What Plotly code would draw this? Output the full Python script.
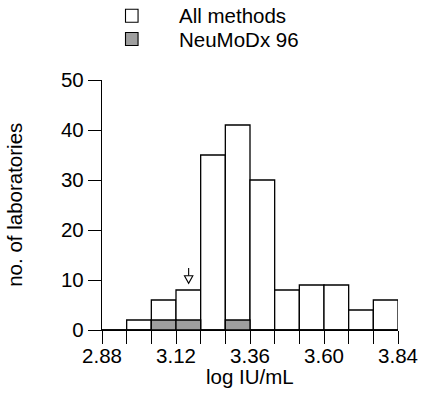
import plotly.graph_objects as go

# Data
bin_left = [2.88, 2.96, 3.04, 3.12, 3.20, 3.28, 3.36, 3.44, 3.52, 3.60, 3.68, 3.76]
all_methods = [0, 2, 6, 8, 35, 41, 30, 8, 9, 9, 4, 6]
neumodx = [0, 0, 2, 2, 0, 2, 0, 0, 0, 0, 0, 0]
bin_width = 0.08
x_tick_labels = ["2.88", "3.12", "3.36", "3.60", "3.84"]
y_ticks = [0, 10, 20, 30, 40, 50]
assigned_value = 3.161  # arrow marker position
arrow_top, arrow_tip = 12.4, 9.35
series_names = ["All methods", "NeuMoDx 96"]

centers = [b + bin_width / 2 for b in bin_left]
edges = [round(2.88 + i * bin_width, 2) for i in range(13)]
edge_text = [f"{e:.2f}" if f"{e:.2f}" in x_tick_labels else "" for e in edges]

FONT = "Liberation Sans, Arial, Helvetica, sans-serif"
FS = 20.5
LW = 1.3

fig = go.Figure()
fig.add_trace(go.Bar(x=centers, y=all_methods, width=bin_width, name=series_names[0],
                     marker=dict(color="white", line=dict(color="black", width=LW))))
fig.add_trace(go.Bar(x=centers, y=neumodx, width=bin_width, name=series_names[1],
                     marker=dict(color="#9f9f9f", line=dict(color="black", width=LW))))

# arrow (open head)
hw = 0.0136
head_base = arrow_tip + 1.5
fig.add_shape(type="line", x0=assigned_value, x1=assigned_value, y0=arrow_top, y1=head_base,
              line=dict(color="black", width=1.1))
fig.add_shape(type="path",
              path=f"M {assigned_value-hw},{head_base} L {assigned_value+hw},{head_base} L {assigned_value},{arrow_tip} Z",
              line=dict(color="black", width=1.1), fillcolor="white")

# manual legend
leg = [("white", 1.2572), ("#9f9f9f", 1.1640)]
for (col, py), name in zip(leg, series_names):
    fig.add_shape(type="rect", xref="paper", yref="paper",
                  x0=0.0794, x1=0.1218, y0=py - 0.026, y1=py + 0.026,
                  fillcolor=col, line=dict(color="black", width=1.1))
    fig.add_annotation(xref="paper", yref="paper", x=0.2546, y=py, text=name,
                       showarrow=False, xanchor="left", yanchor="middle",
                       font=dict(family=FONT, size=FS, color="black"))

fig.add_annotation(xref="paper", yref="paper", x=0.5, y=-0.184, text="log IU/mL",
                   showarrow=False, xanchor="center", yanchor="middle",
                   font=dict(family=FONT, size=FS, color="black"))
fig.add_annotation(xref="paper", yref="paper", x=-0.298, y=0.5, text="no. of laboratories",
                   textangle=-90, showarrow=False, xanchor="center", yanchor="middle",
                   font=dict(family=FONT, size=FS, color="black"))

fig.update_layout(
    width=430, height=394, margin=dict(l=102, r=21, t=80, b=64),
    paper_bgcolor="white", plot_bgcolor="white", barmode="overlay", showlegend=False,
    font=dict(family=FONT, size=FS, color="black"),
    xaxis=dict(range=[2.88, 3.84], tickvals=edges, ticktext=edge_text, ticks="outside",
               ticklen=13, tickwidth=LW, tickcolor="black", showline=True, linecolor="black",
               linewidth=LW, showgrid=False, zeroline=False, ticklabelstandoff=-6),
    yaxis=dict(range=[0, 50], tickvals=y_ticks, ticks="outside", ticklen=13, tickwidth=LW,
               tickcolor="black", showline=True, linecolor="black", linewidth=LW,
               showgrid=False, zeroline=False),
)

fig.write_html("out.html")
